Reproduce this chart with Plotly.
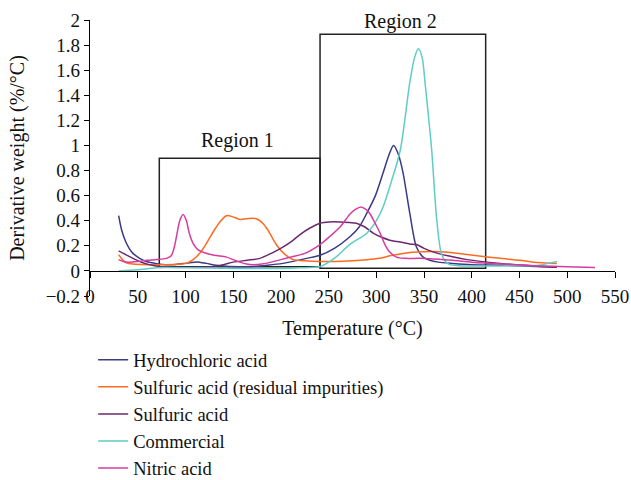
import plotly.graph_objects as go

# ---- data ----
hcl_x = [30, 33, 37, 41, 45, 52, 59, 70, 80, 90, 101, 112, 122, 132, 143, 157, 171, 186, 202, 215, 227, 241, 256, 272, 282, 290, 299, 307, 313, 318, 323, 328, 335, 342, 349, 356, 365, 380, 400, 430, 460, 489]
hcl_y = [0.44, 0.33, 0.24, 0.18, 0.14, 0.10, 0.075, 0.058, 0.05, 0.052, 0.062, 0.072, 0.06, 0.045, 0.037, 0.034, 0.035, 0.045, 0.06, 0.08, 0.10, 0.125, 0.18, 0.27, 0.35, 0.46, 0.6, 0.78, 0.92, 1.0, 0.93, 0.78, 0.46, 0.19, 0.11, 0.085, 0.07, 0.06, 0.05, 0.045, 0.038, 0.03]

sres_x = [30, 34, 38, 45, 60, 80, 95, 101, 108, 115, 122, 129, 136, 143, 150, 157, 164, 171, 176, 181, 186, 192, 197, 203, 208, 213, 225, 241, 255, 275, 290, 303, 314, 325, 335, 348, 360, 375, 395, 412, 430, 450, 465, 489]
sres_y = [0.13, 0.09, 0.065, 0.055, 0.05, 0.05, 0.055, 0.06, 0.09, 0.14, 0.22, 0.31, 0.39, 0.44, 0.43, 0.41, 0.415, 0.42, 0.41, 0.38, 0.33, 0.25, 0.19, 0.14, 0.11, 0.09, 0.08, 0.075, 0.075, 0.08, 0.088, 0.1, 0.12, 0.135, 0.146, 0.152, 0.154, 0.148, 0.13, 0.115, 0.1, 0.085, 0.07, 0.06]

sulf_x = [30, 40, 52, 62, 73, 90, 110, 130, 140, 150, 165, 178, 190, 202, 212, 220, 230, 241, 251, 262, 272, 279, 288, 297, 305, 314, 325, 335, 342, 350, 360, 375, 395, 430, 465, 489]
sulf_y = [0.16, 0.12, 0.075, 0.05, 0.035, 0.03, 0.03, 0.035, 0.05, 0.07, 0.085, 0.10, 0.14, 0.19, 0.24, 0.29, 0.34, 0.38, 0.39, 0.39, 0.385, 0.38, 0.35, 0.30, 0.27, 0.245, 0.23, 0.215, 0.21, 0.18, 0.15, 0.12, 0.09, 0.06, 0.04, 0.03]

comm_x = [30, 50, 70, 100, 150, 200, 220, 241, 256, 272, 290, 300, 307, 316, 325, 335, 340, 344, 348, 351, 355, 358, 363, 368, 373, 377, 386, 395, 430, 470, 480, 489]
comm_y = [0.0, 0.01, 0.025, 0.025, 0.02, 0.02, 0.025, 0.035, 0.1, 0.21, 0.30, 0.4, 0.51, 0.72, 0.96, 1.5, 1.7, 1.77, 1.7, 1.5, 1.2, 0.96, 0.43, 0.14, 0.07, 0.05, 0.042, 0.04, 0.04, 0.045, 0.06, 0.075]

nit_x = [30, 35, 40, 50, 60, 70, 80, 85, 88, 91, 94, 97.5, 101, 104, 108, 113, 120, 130, 143, 150, 157, 164, 171, 180, 190, 200, 210, 225, 241, 252, 262, 272, 278, 284, 289, 293, 298, 304, 309, 314, 321, 330, 345, 360, 380, 400, 430, 470, 500, 529]
nit_y = [0.09, 0.075, 0.07, 0.075, 0.085, 0.09, 0.10, 0.12, 0.18, 0.29, 0.40, 0.45, 0.40, 0.30, 0.22, 0.17, 0.145, 0.125, 0.11, 0.09, 0.07, 0.055, 0.05, 0.055, 0.07, 0.09, 0.11, 0.14, 0.21, 0.28, 0.35, 0.45, 0.49, 0.51, 0.49, 0.46, 0.39, 0.30, 0.21, 0.15, 0.11, 0.10, 0.10, 0.095, 0.085, 0.07, 0.055, 0.04, 0.033, 0.027]

series_names = ["Hydrochloric acid", "Sulfuric acid (residual impurities)", "Sulfuric acid", "Commercial", "Nitric acid"]
series_x = [hcl_x, sres_x, sulf_x, comm_x, nit_x]
series_y = [hcl_y, sres_y, sulf_y, comm_y, nit_y]
colors = ["#3a3a85", "#ff6a1f", "#6b2a6e", "#5ecdc5", "#d63c9f"]

x_ticks = [0, 50, 100, 150, 200, 250, 300, 350, 400, 450, 500, 550]
y_ticks = [-0.2, 0, 0.2, 0.4, 0.6, 0.8, 1, 1.2, 1.4, 1.6, 1.8, 2]
y_ticktext = ["\u22120.2", "0", "0.2", "0.4", "0.6", "0.8", "1", "1.2", "1.4", "1.6", "1.8", "2"]

FONT = "Liberation Serif"

fig = go.Figure()
for name, xs, ys, c in zip(series_names, series_x, series_y, colors):
    fig.add_trace(go.Scatter(x=xs, y=ys, mode="lines", name=name,
                             line=dict(color=c, width=1.5, shape="spline", smoothing=0.8)))

# region boxes
fig.add_shape(type="rect", x0=72.6, x1=241, y0=0.034, y1=0.898,
              line=dict(color="#222222", width=1.5), layer="below")
fig.add_shape(type="rect", x0=241, x1=414.5, y0=0.021, y1=1.886,
              line=dict(color="#222222", width=1.5), layer="below")
fig.add_annotation(x=154, y=1.036, text="Region 1", showarrow=False,
                   font=dict(family=FONT, size=20, color="#111"))
fig.add_annotation(x=325, y=1.99, text="Region 2", showarrow=False,
                   font=dict(family=FONT, size=20, color="#111"))

fig.update_layout(
    width=631, height=480,
    margin=dict(l=90, r=16, t=20, b=184, autoexpand=False),
    paper_bgcolor="white", plot_bgcolor="white",
    font=dict(family=FONT, size=19, color="#111"),
    showlegend=True,
    legend=dict(x=0.006, y=-0.164, xanchor="left", yanchor="top",
                font=dict(family=FONT, size=18.5, color="#111"),
                bgcolor="rgba(0,0,0,0)"),
    xaxis=dict(range=[0, 550], tickvals=x_ticks, anchor="free", position=0.2 / 2.2,
               showline=True, linecolor="black", linewidth=1.2,
               ticks="outside", ticklen=6, tickcolor="black", tickwidth=1.2,
               ticklabelstandoff=2,
               showgrid=False, zeroline=False,
               title=dict(text="Temperature (\u00b0C)", font=dict(family=FONT, size=20))),
    yaxis=dict(range=[-0.2, 2], tickvals=y_ticks, ticktext=y_ticktext,
               showline=True, linecolor="black", linewidth=1.2,
               ticks="outside", ticklen=5, tickcolor="black", tickwidth=1.2,
               showgrid=False, zeroline=False,
               title=dict(text="Derivative weight (%/\u00b0C)", font=dict(family=FONT, size=20))),
)

fig.write_html("out.html")
